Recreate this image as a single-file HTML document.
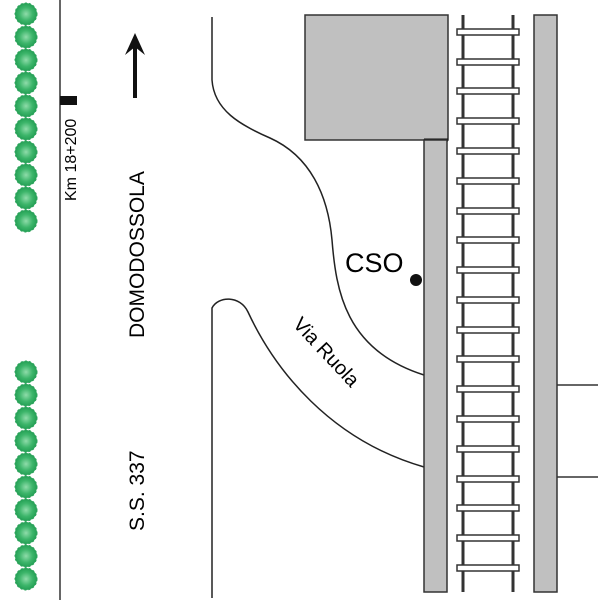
<!DOCTYPE html>
<html><head><style>body{margin:0;background:#fff}svg{display:block}</style></head><body>
<svg width="600" height="600" xmlns="http://www.w3.org/2000/svg" font-family="Liberation Sans, sans-serif">
<defs>
<radialGradient id="g"><stop offset="0" stop-color="#8fdcaa"/><stop offset="0.6" stop-color="#3cb56a"/><stop offset="1" stop-color="#25a055"/></radialGradient>
<g id="t"><circle r="11" fill="url(#g)"/><circle r="10.5" fill="none" stroke="#2aa35a" stroke-width="2" stroke-dasharray="2 2"/></g>
</defs>
<g>
<use href="#t" x="26" y="14"/><use href="#t" x="26" y="37"/><use href="#t" x="26" y="60"/><use href="#t" x="26" y="83"/><use href="#t" x="26" y="106"/><use href="#t" x="26" y="129"/><use href="#t" x="26" y="152"/><use href="#t" x="26" y="175"/><use href="#t" x="26" y="198"/><use href="#t" x="26" y="221"/>
<use href="#t" x="26" y="372"/><use href="#t" x="26" y="395"/><use href="#t" x="26" y="418"/><use href="#t" x="26" y="441"/><use href="#t" x="26" y="464"/><use href="#t" x="26" y="487"/><use href="#t" x="26" y="510"/><use href="#t" x="26" y="533"/><use href="#t" x="26" y="556"/><use href="#t" x="26" y="579"/>
</g>
<line x1="60" y1="0" x2="60" y2="600" stroke="#333" stroke-width="1.5"/>
<rect x="60" y="96" width="17" height="9" fill="#111"/>
<text transform="translate(76,201) rotate(-90)" font-size="16">Km 18+200</text>
<line x1="135" y1="98" x2="135" y2="45" stroke="#111" stroke-width="4"/>
<path d="M125,55 L135,33 L145,55 L135,47 Z" fill="#111"/>
<text transform="translate(144,338) rotate(-90)" font-size="21">DOMODOSSOLA</text>
<text transform="translate(144,531) rotate(-90)" font-size="21">S.S. 337</text>
<path d="M212,17 L212,80 C214,110 240,125 270,138 C310,156 328,195 332,240 C336,290 345,350 424,375" fill="none" stroke="#222" stroke-width="1.5"/>
<path d="M212,598 L212,308 C218,296 240,295 248,312 C275,370 330,440 424,467" fill="none" stroke="#222" stroke-width="1.5"/>
<text transform="translate(292,325) rotate(47)" font-size="20">Via Ruola</text>
<text x="345" y="272" font-size="27">CSO</text>
<circle cx="416" cy="280" r="6" fill="#111"/>
<rect x="305" y="15" width="143" height="125" fill="#c0c0c0" stroke="#333" stroke-width="1.5"/>
<line x1="424" y1="140" x2="448" y2="140" stroke="#111" stroke-width="3"/>
<rect x="424" y="140" width="23" height="452" fill="#c0c0c0" stroke="#333" stroke-width="1.5"/>
<rect x="534" y="15" width="23" height="577" fill="#c0c0c0" stroke="#333" stroke-width="1.5"/>
<line x1="557" y1="385" x2="598" y2="385" stroke="#333" stroke-width="1.5"/>
<line x1="557" y1="477" x2="598" y2="477" stroke="#333" stroke-width="1.5"/>
<line x1="463" y1="15" x2="463" y2="592" stroke="#333" stroke-width="3"/>
<line x1="513" y1="15" x2="513" y2="592" stroke="#333" stroke-width="3"/>
<g fill="#fff" stroke="#333" stroke-width="1.5">
<rect x="457" y="29" width="62" height="6"/><rect x="457" y="59" width="62" height="6"/><rect x="457" y="88" width="62" height="6"/><rect x="457" y="118" width="62" height="6"/><rect x="457" y="148" width="62" height="6"/><rect x="457" y="178" width="62" height="6"/><rect x="457" y="208" width="62" height="6"/><rect x="457" y="237" width="62" height="6"/><rect x="457" y="267" width="62" height="6"/><rect x="457" y="297" width="62" height="6"/><rect x="457" y="327" width="62" height="6"/><rect x="457" y="356" width="62" height="6"/><rect x="457" y="386" width="62" height="6"/><rect x="457" y="416" width="62" height="6"/><rect x="457" y="446" width="62" height="6"/><rect x="457" y="476" width="62" height="6"/><rect x="457" y="505" width="62" height="6"/><rect x="457" y="535" width="62" height="6"/><rect x="457" y="565" width="62" height="6"/>
</g>
</svg>
</body></html>
